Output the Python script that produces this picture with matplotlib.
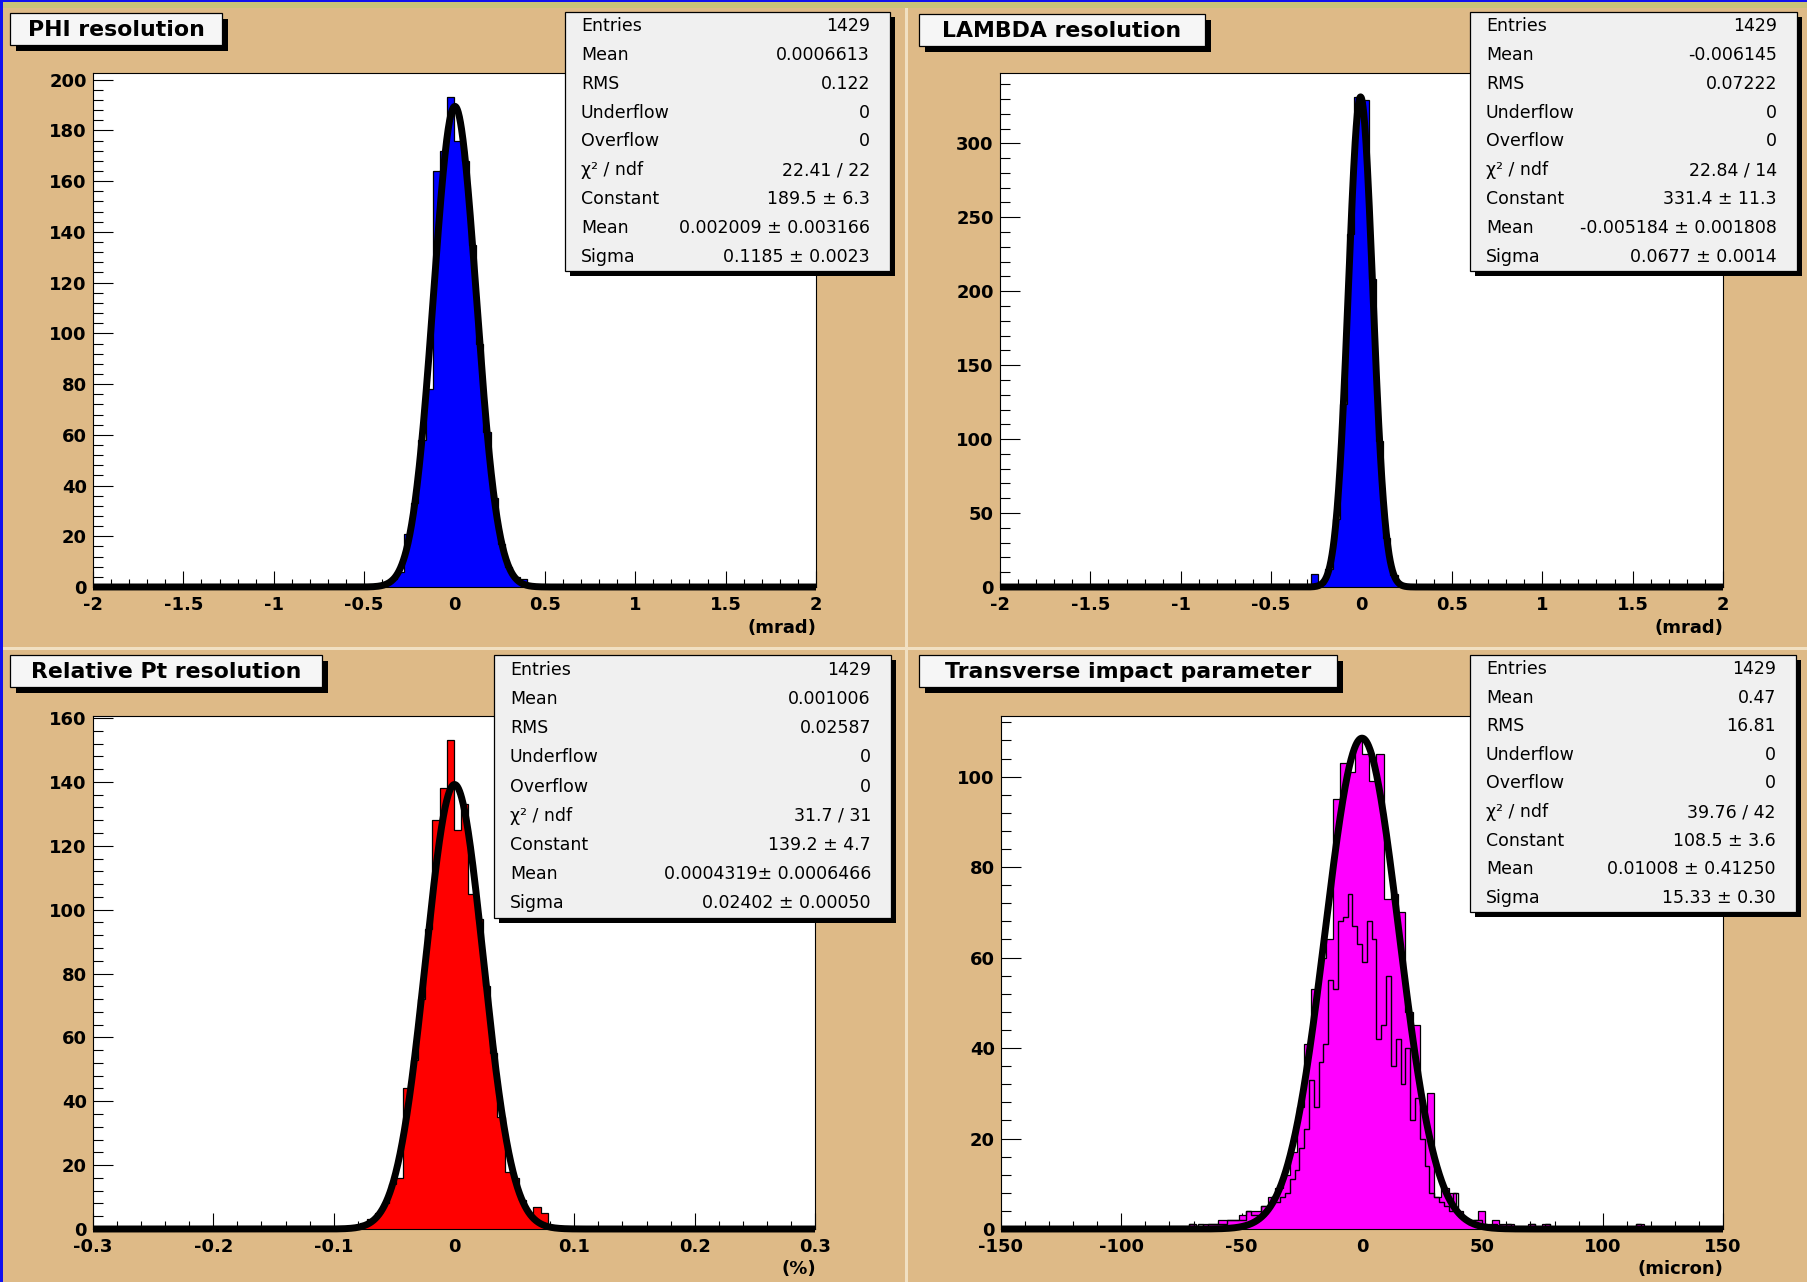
import numpy as np
import matplotlib
matplotlib.use("Agg")
import matplotlib.pyplot as plt
from matplotlib.patches import Rectangle
from matplotlib.ticker import FixedLocator, MultipleLocator

plt.rcParams['font.family'] = ['DejaVu Sans']

W, H = 1808, 1282

# ======================= DATA =======================
# PHI resolution : 100 bins on [-2, 2], non-zero window starting at -0.48
phi_range = (-2.0, 2.0)
phi_nbins = 100
phi_window_start = -0.48
phi_window = [0, 1, 1, 3, 6, 21, 33, 58, 78, 164, 172, 193,
              176, 168, 135, 96, 61, 35, 17, 8, 4, 3, 0, 0]
phi_fit = (189.5, 0.002009, 0.1185)          # Constant, Mean, Sigma

# LAMBDA resolution : 100 bins on [-2, 2]
lam_range = (-2.0, 2.0)
lam_nbins = 100
lam_window_start = -0.28
lam_window = [9, 2, 12, 46, 124, 239, 331, 329, 208, 99, 33, 8, 1, 0]
lam_fit = (331.4, -0.005184, 0.0677)

# Relative Pt resolution : 100 bins on [-0.3, 0.3]
pt_range = (-0.3, 0.3)
pt_nbins = 100
pt_window_start = -0.084
pt_window = [1, 2, 3, 5, 8, 14, 16, 44, 53, 72, 94, 128, 138, 153,
             125, 133, 105, 97, 76, 55, 35, 18, 16, 9, 5, 7, 5, 1]
pt_fit = (139.2, 0.0004319, 0.02402)

# Transverse impact parameter : filled histogram, 100 bins on [-150, 150]
ip_range = (-150.0, 150.0)
ip_nbins = 100
ip_window_start = -72.0
ip_window = [1, 0, 1, 1, 2, 2, 2, 3, 4, 4,
             5, 7, 9, 12, 17, 27, 41, 53, 60, 64,
             95, 103, 101, 108, 105, 99, 105, 73, 74, 70,
             48, 45, 26, 30, 7, 9, 8, 4, 2, 2,
             4, 1, 2, 1, 1, 0, 0, 1, 0, 1]
ip_far_x = [115.5]
ip_far_n = [1]
ip_fit = (108.5, 0.01008, 15.33)

# second (outline only) histogram, 150 bins on [-150, 150]
ip2_nbins = 150
ip2_window_start = -72.0
ip2_window = [1, 0, 1, 0, 1, 1, 1, 1, 2, 2,
              2, 2, 4, 3, 3, 5, 5, 7, 6, 7,
              8, 11, 13, 18, 22, 33, 27, 37, 41, 55,
              53, 68, 69, 74, 67, 63, 59, 68, 64, 42,
              45, 56, 36, 42, 32, 40, 24, 29, 20, 14,
              8, 7, 6, 5, 4, 8, 3, 2, 1, 2,
              2, 1, 0, 1, 0, 0, 1, 0, 0, 0,
              0, 1, 0, 0, 1]
ip2_far_x = [115.0]
ip2_far_n = [1]

titles = ["PHI resolution", "LAMBDA resolution",
          "Relative Pt resolution", "Transverse impact parameter"]
units = ["(mrad)", "(mrad)", "(%)", "(micron)"]

phi_xticks = [-2, -1.5, -1, -0.5, 0, 0.5, 1, 1.5, 2]
phi_xlabels = ["-2", "-1.5", "-1", "-0.5", "0", "0.5", "1", "1.5", "2"]
pt_xticks = [-0.3, -0.2, -0.1, 0, 0.1, 0.2, 0.3]
pt_xlabels = ["-0.3", "-0.2", "-0.1", "0", "0.1", "0.2", "0.3"]
ip_xticks = [-150, -100, -50, 0, 50, 100, 150]
ip_xlabels = ["-150", "-100", "-50", "0", "50", "100", "150"]

stat_labels = ["Entries", "Mean", "RMS", "Underflow", "Overflow",
               "\u03c7\u00b2 / ndf", "Constant", "Mean", "Sigma"]
stats_phi = ["1429", "0.0006613", "0.122", "0", "0", "22.41 / 22",
             "189.5 \u00b1 6.3", "0.002009 \u00b1 0.003166", "0.1185 \u00b1 0.0023"]
stats_lam = ["1429", "-0.006145", "0.07222", "0", "0", "22.84 / 14",
             "331.4 \u00b1 11.3", "-0.005184 \u00b1 0.001808", "0.0677 \u00b1 0.0014"]
stats_pt = ["1429", "0.001006", "0.02587", "0", "0", "31.7 / 31",
            "139.2 \u00b1 4.7", "0.0004319\u00b1 0.0006466", "0.02402 \u00b1 0.00050"]
stats_ip = ["1429", "0.47", "16.81", "0", "0", "39.76 / 42",
            "108.5 \u00b1 3.6", "0.01008 \u00b1 0.41250", "15.33 \u00b1 0.30"]

# ======================= STYLE =======================
BG = '#DEBA87'
LIGHT = '#F1E0C2'
FS_TICK = 13.0
FS_STAT = 12.5
FS_TITLE = 15.8


def build(lo, hi, nbins, start, window, far_x=(), far_n=()):
    w = (hi - lo) / nbins
    counts = np.zeros(nbins)
    i0 = int(round((start - lo) / w))
    counts[i0:i0 + len(window)] = window
    for x, n in zip(far_x, far_n):
        counts[int((x - lo) // w)] = n
    edges = np.linspace(lo, hi, nbins + 1)
    return edges, counts


fig = plt.figure(figsize=(W / 100, H / 100), dpi=100)
fig.patch.set_facecolor(BG)

bg = fig.add_axes([0, 0, 1, 1], zorder=0)
bg.set_xlim(0, W)
bg.set_ylim(H, 0)
bg.axis('off')
bg.add_patch(Rectangle((905, 0), 3, H, color=LIGHT, lw=0))
bg.add_patch(Rectangle((0, 647), W, 3, color=LIGHT, lw=0))
bg.add_patch(Rectangle((0, 2), W, 6, color='#C9C27A', lw=0))
bg.add_patch(Rectangle((0, 0), W, 2, color='#1010F0', lw=0))
bg.add_patch(Rectangle((0, 0), 3, H, color='#1010F0', lw=0))


def px_axes(x0, y0, x1, y1):
    return fig.add_axes([x0 / W, 1 - y1 / H, (x1 - x0) / W, (y1 - y0) / H], zorder=5)


def draw(ax, edges, counts, color, fit, xr, xt, xl, xminor, ystep, yminor,
         hollow=None):
    ymax = 1.05 * counts.max()
    ax.set_facecolor('white')
    ax.stairs(counts, edges, fill=True, color=color, lw=0, zorder=2)
    ax.stairs(counts, edges, color='black', lw=0.9, zorder=3)
    if hollow is not None:
        ax.stairs(hollow[1], hollow[0], color='black', lw=1.0, zorder=3.5)
    xs = np.linspace(xr[0], xr[1], 2000)
    C, mu, s = fit
    ax.plot(xs, C * np.exp(-0.5 * ((xs - mu) / s) ** 2), color='black',
            lw=5.0, clip_on=False, zorder=4, solid_capstyle='butt')
    ax.set_xlim(xr)
    ax.set_ylim(0, ymax)
    ax.xaxis.set_major_locator(FixedLocator(xt))
    ax.set_xticklabels(xl, fontweight='bold', fontsize=FS_TICK)
    ax.xaxis.set_minor_locator(MultipleLocator(xminor))
    yt = np.arange(0, ymax, ystep)
    ax.yaxis.set_major_locator(FixedLocator(yt))
    ax.set_yticklabels([f"{v:g}" for v in yt], fontweight='bold', fontsize=FS_TICK)
    ax.yaxis.set_minor_locator(MultipleLocator(yminor))
    ax.tick_params(which='both', direction='in', top=False, right=False,
                   width=0.8, color='black')
    ax.tick_params(axis='x', which='major', length=11.5, pad=6.5)
    ax.tick_params(axis='x', which='minor', length=5.8)
    ax.tick_params(axis='y', which='major', length=14.4, pad=4.5)
    ax.tick_params(axis='y', which='minor', length=7.2)
    for sp in ax.spines.values():
        sp.set_linewidth(0.8)


frames = [(93, 73, 816, 587), (1000, 73, 1723, 587),
          (93, 716, 815, 1229), (1001, 716, 1723, 1229)]

e, c = build(*phi_range, phi_nbins, phi_window_start, phi_window)
draw(px_axes(*frames[0]), e, c, '#0000FF', phi_fit, phi_range,
     phi_xticks, phi_xlabels, 0.1, 20, 4)

e, c = build(*lam_range, lam_nbins, lam_window_start, lam_window)
draw(px_axes(*frames[1]), e, c, '#0000FF', lam_fit, lam_range,
     phi_xticks, phi_xlabels, 0.1, 50, 10)

e, c = build(*pt_range, pt_nbins, pt_window_start, pt_window)
draw(px_axes(*frames[2]), e, c, '#FF0000', pt_fit, pt_range,
     pt_xticks, pt_xlabels, 0.02, 20, 4)

e, c = build(*ip_range, ip_nbins, ip_window_start, ip_window, ip_far_x, ip_far_n)
e2, c2 = build(*ip_range, ip2_nbins, ip2_window_start, ip2_window, ip2_far_x, ip2_far_n)
draw(px_axes(*frames[3]), e, c, '#FF00FF', ip_fit, ip_range,
     ip_xticks, ip_xlabels, 10, 20, 4, hollow=(e2, c2))

# ======================= OVERLAY (boxes, text) =======================
ov = fig.add_axes([0, 0, 1, 1], zorder=20)
ov.set_xlim(0, W)
ov.set_ylim(H, 0)
ov.axis('off')
ov.patch.set_alpha(0)


def box(x0, y0, x1, y1, fc, sh=5):
    ov.add_patch(Rectangle((x0 + sh, y0 + sh), x1 - x0, y1 - y0, fc='black', ec='none'))
    ov.add_patch(Rectangle((x0, y0), x1 - x0, y1 - y0, fc=fc, ec='black', lw=0.9))


title_boxes = [(10, 13, 222, 45), (919, 14, 1205, 46),
               (10, 655, 322, 687), (919, 655, 1337, 687)]
for (x0, y0, x1, y1), t in zip(title_boxes, titles):
    box(x0, y0, x1, y1, '#F6F6F6', sh=6)
    ov.text((x0 + x1) / 2, (y0 + y1) / 2 + 1, t, ha='center', va='center',
            fontsize=FS_TITLE, fontweight='bold', color='black')

stat_boxes = [(565, 12, 890, 271), (1470, 12, 1797, 271),
              (494, 655, 891, 918), (1470, 655, 1796, 912)]
for (x0, y0, x1, y1), vals in zip(stat_boxes, [stats_phi, stats_lam, stats_pt, stats_ip]):
    box(x0, y0, x1, y1, '#F0F0F0', sh=5)
    rh = (y1 - y0) / len(stat_labels)
    for i, (lab, val) in enumerate(zip(stat_labels, vals)):
        yc = y0 + (i + 0.5) * rh
        ov.text(x0 + 16, yc, lab, ha='left', va='center', fontsize=FS_STAT)
        ov.text(x1 - 20, yc, val, ha='right', va='center', fontsize=FS_STAT)

unit_pos = [(816, 628), (1723, 628), (816, 1269), (1723, 1269)]
for (x, y), u in zip(unit_pos, units):
    ov.text(x, y, u, ha='right', va='center', fontsize=FS_TICK, fontweight='bold')

fig.savefig("out.png", dpi=100, facecolor=fig.get_facecolor())
